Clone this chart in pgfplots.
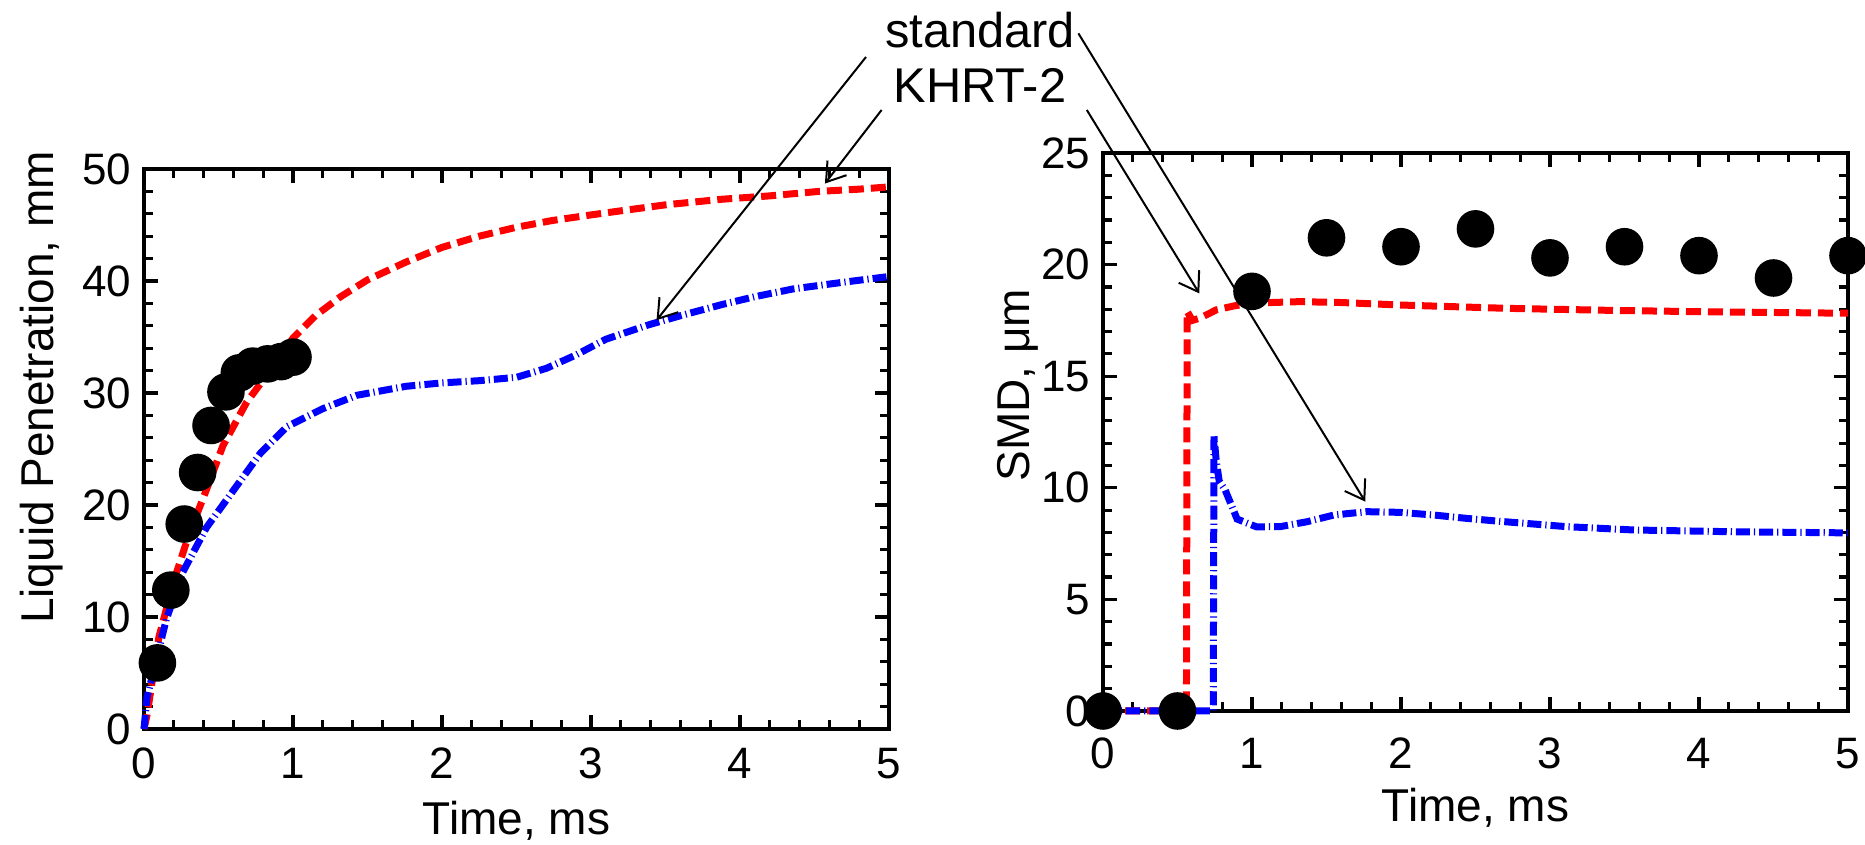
\documentclass[border=0pt]{standalone}
\usepackage{fontspec}
\setmainfont{Liberation Sans}
\usepackage{pgfplots}
\pgfplotsset{compat=1.18}
\usetikzlibrary{arrows.meta}

\definecolor{kred}{RGB}{255,0,0}
\definecolor{sblue}{RGB}{0,0,255}

\tikzset{lbl/.style={font=\fontsize{11.5}{13.5}\selectfont, inner sep=0pt}}

\pgfplotsset{
  sprayax/.style={
    scale only axis, width=186.25pt,
    xmin=0, xmax=5, xtick={0,...,5},
    minor x tick num=4, minor y tick num=4,
    tick align=inside, major tick length=3.5pt, minor tick length=2.25pt,
    every tick/.style={line width=0.8pt, black},
    axis line style={line width=0.9pt},
    /pgf/number format/assume math mode=true,
    tick label style={font=\fontsize{11}{13}\selectfont, inner sep=0pt},
    yticklabel style={xshift=-3pt},
    clip=false,
  },
  khrt/.style={kred, line width=1.75pt, dash pattern=on 3.75pt off 1.75pt},
  stdm/.style={sblue, line width=1.75pt, dash pattern=on 3.5pt off 1pt on 0.3pt off 1pt},
  expt/.style={only marks, mark=*, mark size=4.5pt, black},
}

\begin{document}
\begin{tikzpicture}
\useasboundingbox (-36pt,-29pt) rectangle (430.25pt,182.25pt);

% left: liquid penetration
\begin{axis}[sprayax, at={(0pt,0pt)}, anchor=south west, height=140pt,
  ymin=0, ymax=50, ytick={0,10,...,50},
  xticklabel style={yshift=-4.5pt},
  xlabel={Time, ms}, ylabel={Liquid Penetration, mm},
  every axis x label/.style={lbl,at={(axis description cs:0.5,-0.127)},anchor=north},
  every axis y label/.style={lbl,at={(axis description cs:-0.137,0.61)},rotate=90,anchor=center}]
\addplot[khrt] coordinates {(0,0) (0.02,1.2) (0.1,8.2) (0.2,13.2) (0.3,17.3) (0.42,21.4)
  (0.53,25.3) (0.69,29.2) (0.87,32.4) (1.0,34.9) (1.15,36.9) (1.32,38.6) (1.5,40.1)
  (1.76,41.7) (2.0,43.0) (2.25,44.0) (2.5,44.8) (2.74,45.4) (3.0,45.9) (3.22,46.3)
  (3.5,46.8) (3.88,47.3) (4.2,47.6) (4.53,48.0) (4.8,48.2) (5.0,48.4)};
\addplot[stdm] coordinates {(0,0) (0.02,2.8) (0.15,9.8) (0.26,14.0) (0.42,18.0) (0.6,21.3)
  (0.78,24.6) (0.96,27.0) (1.2,28.6) (1.43,29.8) (1.76,30.6) (2.0,30.9) (2.25,31.1)
  (2.5,31.4) (2.7,32.2) (2.9,33.4) (3.1,34.8) (3.39,36.1) (3.6,36.9) (3.88,37.9)
  (4.1,38.6) (4.36,39.3) (4.7,39.9) (5.0,40.4)};
\addplot[expt] coordinates {(0.09,5.9) (0.18,12.4) (0.27,18.3) (0.36,22.9) (0.45,27.1)
  (0.55,30.1) (0.64,31.8) (0.73,32.4) (0.83,32.6) (0.92,32.8) (1.0,33.2)};
\coordinate (lb) at (axis cs:3.44,36.5);
\coordinate (lr) at (axis cs:4.57,48.7);
\end{axis}

% right: SMD
\begin{axis}[sprayax, at={(239.75pt,4.5pt)}, anchor=south west, height=139.5pt,
  ymin=0, ymax=25, ytick={0,5,...,25},
  xticklabel style={yshift=-6.5pt},
  xlabel={Time, ms}, ylabel={SMD, μm},
  every axis x label/.style={lbl,at={(axis description cs:0.5,-0.136)},anchor=north},
  every axis y label/.style={lbl,at={(axis description cs:-0.114,0.584)},rotate=90,anchor=center}]
\addplot[khrt] coordinates {(0,0) (0.56,0) (0.565,17.9) (0.6,17.5) (0.65,17.6) (0.76,17.97)
  (0.88,18.15) (0.99,18.27) (1.32,18.34) (1.6,18.3) (1.99,18.19) (2.71,18.04)
  (3.4,17.95) (4.0,17.89) (5.0,17.82)};
\addplot[stdm] coordinates {(0,0) (0.74,0) (0.745,12.3) (0.76,11.2) (0.78,10.3) (0.82,9.9)
  (0.9,8.6) (1.03,8.25) (1.19,8.26) (1.37,8.48) (1.55,8.78) (1.77,8.93) (1.99,8.9)
  (2.22,8.78) (2.44,8.63) (2.66,8.5) (3.11,8.26) (3.56,8.11) (4.23,8.03) (5.0,7.98)};
\addplot[expt] coordinates {(0,0) (0.5,0) (1,18.8) (1.5,21.2) (2,20.8) (2.5,21.6)
  (3,20.3) (3.5,20.8) (4,20.4) (4.5,19.4) (5,20.4)};
\coordinate (rb) at (axis cs:1.76,9.38);
\coordinate (rr) at (axis cs:0.646,18.71);
\end{axis}

% annotations
\node[anchor=base, inner sep=0pt, font=\fontsize{12.2}{14}\selectfont] at (209pt,170.25pt) {standard};
\node[anchor=base, inner sep=0pt, font=\fontsize{12.2}{14}\selectfont] at (209pt,156.5pt) {KHRT-2};
\begin{scope}[line width=0.5pt, -{Straight Barb[length=4.5pt,width=6pt]}]
\draw (180.5pt,168pt) -- (lb);
\draw (184.4pt,154.75pt) -- (lr);
\draw (233.6pt,173.9pt) -- (rb);
\draw (235.7pt,154.75pt) -- (rr);
\end{scope}
\end{tikzpicture}
\end{document}
